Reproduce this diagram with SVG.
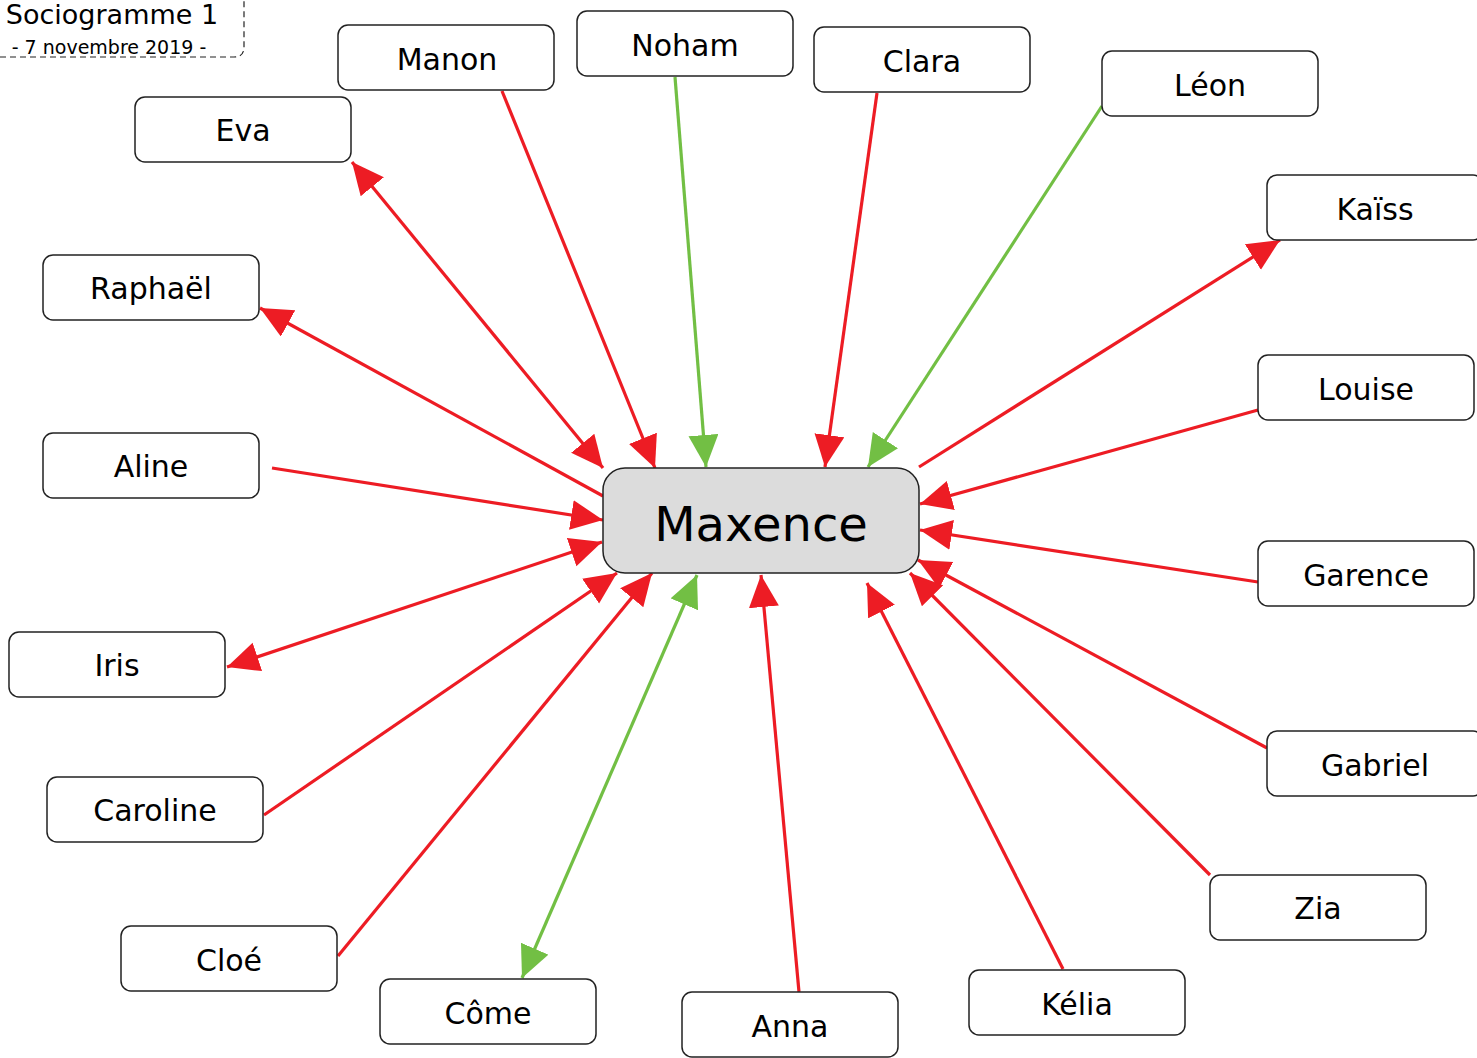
<svg xmlns="http://www.w3.org/2000/svg" width="1477" height="1058" viewBox="0 0 1477 1058">
<style>
.box{fill:#ffffff;stroke:#222;stroke-width:1.5}
.main{fill:#dcdcdc;stroke:#222;stroke-width:1.5}
.lbl{font-family:"Comic Sans MS","DejaVu Sans",sans-serif;font-size:30px;fill:#000;text-anchor:middle;dominant-baseline:central}
.r{stroke:#ed1c24;stroke-width:3.2;fill:none}
.g{stroke:#72bf44;stroke-width:3.2;fill:none}
</style>
<defs>
<marker id="ar" markerUnits="userSpaceOnUse" markerWidth="34" markerHeight="32" refX="32" refY="15" orient="auto-start-reverse" viewBox="0 0 34 32"><path d="M0,0 L32,15 L0,30 z" fill="#ed1c24"/></marker>
<marker id="ag" markerUnits="userSpaceOnUse" markerWidth="34" markerHeight="32" refX="32" refY="15" orient="auto-start-reverse" viewBox="0 0 34 32"><path d="M0,0 L32,15 L0,30 z" fill="#72bf44"/></marker>
</defs>
<rect width="1477" height="1058" fill="#ffffff"/>
<g id="title">
<path d="M0,57 L234,57 Q244,57 244,47 L244,0" fill="none" stroke="#222" stroke-width="1.2" stroke-dasharray="6,4"/>
<text x="112" y="24" font-family="'Comic Sans MS','DejaVu Sans',sans-serif" font-size="27" text-anchor="middle">Sociogramme 1</text>
<text x="109" y="54" font-family="'Comic Sans MS','DejaVu Sans',sans-serif" font-size="19" text-anchor="middle">- 7 novembre 2019 -</text>
</g>
<g id="connectors">
<line class="r" x1="502" y1="91" x2="655" y2="468" marker-end="url(#ar)"/>
<line class="g" x1="675" y1="77" x2="706" y2="467" marker-end="url(#ag)"/>
<line class="r" x1="877" y1="93" x2="825" y2="467" marker-end="url(#ar)"/>
<line class="g" x1="1102" y1="106" x2="868" y2="467" marker-end="url(#ag)"/>
<line class="r" x1="919" y1="467" x2="1280" y2="240" marker-end="url(#ar)"/>
<line class="r" x1="1258" y1="410" x2="920" y2="504" marker-end="url(#ar)"/>
<line class="r" x1="1258" y1="582" x2="920" y2="530" marker-end="url(#ar)"/>
<line class="r" x1="1267" y1="748" x2="918" y2="560" marker-end="url(#ar)"/>
<line class="r" x1="1210" y1="875" x2="910" y2="573" marker-end="url(#ar)"/>
<line class="r" x1="1063" y1="969" x2="867" y2="583" marker-end="url(#ar)"/>
<line class="r" x1="799" y1="992" x2="761" y2="575" marker-end="url(#ar)"/>
<line class="g" x1="522" y1="978" x2="697" y2="575" marker-start="url(#ag)" marker-end="url(#ag)"/>
<line class="r" x1="338" y1="956" x2="652" y2="573" marker-end="url(#ar)"/>
<line class="r" x1="264" y1="815" x2="617" y2="573" marker-end="url(#ar)"/>
<line class="r" x1="227" y1="667" x2="602" y2="542" marker-start="url(#ar)" marker-end="url(#ar)"/>
<line class="r" x1="272" y1="468" x2="603" y2="520" marker-end="url(#ar)"/>
<line class="r" x1="603" y1="496" x2="260" y2="308" marker-end="url(#ar)"/>
<line class="r" x1="352" y1="162" x2="603" y2="468" marker-start="url(#ar)" marker-end="url(#ar)"/>
</g>
<g id="maxence"><rect class="main" x="603" y="468" width="316" height="105" rx="22"/><text class="lbl" x="761" y="524" style="font-size:48px">Maxence</text></g>
<g id="manon"><rect class="box" x="338" y="25" width="216" height="65" rx="10"/><text class="lbl" x="447" y="59">Manon</text></g>
<g id="noham"><rect class="box" x="577" y="11" width="216" height="65" rx="10"/><text class="lbl" x="685" y="45">Noham</text></g>
<g id="clara"><rect class="box" x="814" y="27" width="216" height="65" rx="10"/><text class="lbl" x="922" y="61">Clara</text></g>
<g id="leon"><rect class="box" x="1102" y="51" width="216" height="65" rx="10"/><text class="lbl" x="1210" y="85">Léon</text></g>
<g id="kaiss"><rect class="box" x="1267" y="175" width="216" height="65" rx="10"/><text class="lbl" x="1375" y="209">Kaïss</text></g>
<g id="louise"><rect class="box" x="1258" y="355" width="216" height="65" rx="10"/><text class="lbl" x="1366" y="389">Louise</text></g>
<g id="garence"><rect class="box" x="1258" y="541" width="216" height="65" rx="10"/><text class="lbl" x="1366" y="575">Garence</text></g>
<g id="gabriel"><rect class="box" x="1267" y="731" width="216" height="65" rx="10"/><text class="lbl" x="1375" y="765">Gabriel</text></g>
<g id="zia"><rect class="box" x="1210" y="875" width="216" height="65" rx="10"/><text class="lbl" x="1318" y="908">Zia</text></g>
<g id="kelia"><rect class="box" x="969" y="970" width="216" height="65" rx="10"/><text class="lbl" x="1077" y="1004">Kélia</text></g>
<g id="anna"><rect class="box" x="682" y="992" width="216" height="65" rx="10"/><text class="lbl" x="790" y="1026">Anna</text></g>
<g id="come"><rect class="box" x="380" y="979" width="216" height="65" rx="10"/><text class="lbl" x="488" y="1013">Côme</text></g>
<g id="cloe"><rect class="box" x="121" y="926" width="216" height="65" rx="10"/><text class="lbl" x="229" y="960">Cloé</text></g>
<g id="caroline"><rect class="box" x="47" y="777" width="216" height="65" rx="10"/><text class="lbl" x="155" y="810">Caroline</text></g>
<g id="iris"><rect class="box" x="9" y="632" width="216" height="65" rx="10"/><text class="lbl" x="117" y="665">Iris</text></g>
<g id="aline"><rect class="box" x="43" y="433" width="216" height="65" rx="10"/><text class="lbl" x="151" y="466">Aline</text></g>
<g id="raphael"><rect class="box" x="43" y="255" width="216" height="65" rx="10"/><text class="lbl" x="151" y="288">Raphaël</text></g>
<g id="eva"><rect class="box" x="135" y="97" width="216" height="65" rx="10"/><text class="lbl" x="243" y="130">Eva</text></g>
</svg>
